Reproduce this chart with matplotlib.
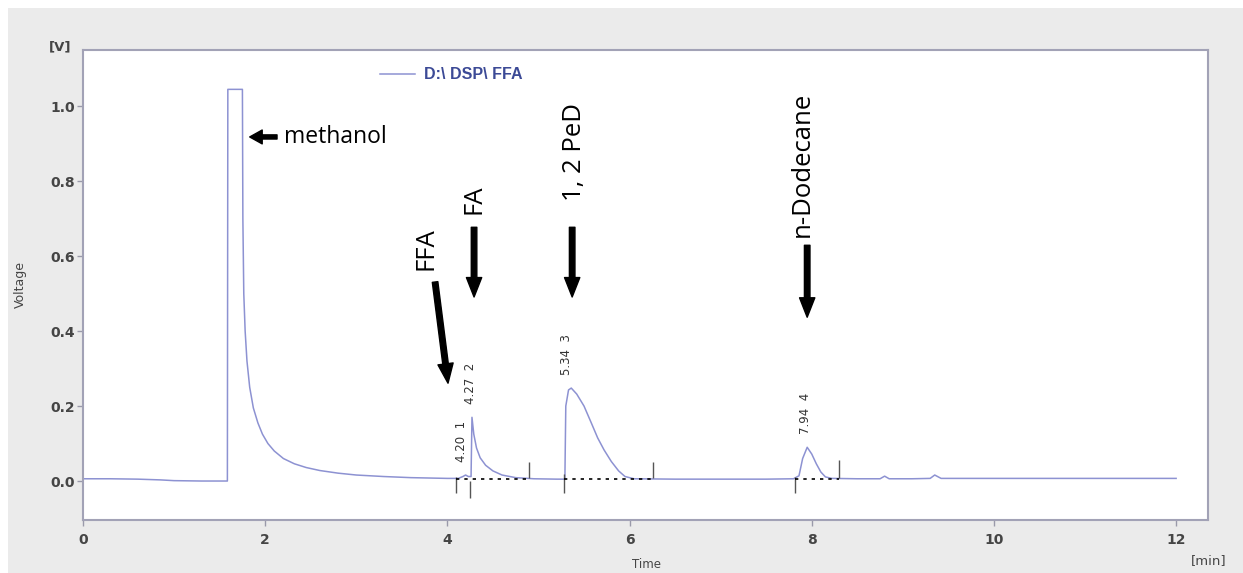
import numpy as np
import matplotlib.pyplot as plt
from matplotlib.patches import Rectangle

# chromatogram trace (time in min, voltage in V)
time = [0.0, 0.3, 0.6, 0.85, 1.0, 1.3, 1.585, 1.59, 1.75, 1.755, 1.765, 1.78,
        1.80, 1.83, 1.87, 1.92, 1.97, 2.03, 2.1, 2.2, 2.32, 2.45, 2.6, 2.8,
        3.0, 3.3, 3.6, 4.0, 4.12, 4.17, 4.20, 4.23, 4.26, 4.27, 4.29, 4.32,
        4.36, 4.42, 4.5, 4.6, 4.75, 4.95, 5.2, 5.29, 5.30, 5.33, 5.36, 5.42,
        5.5, 5.58, 5.65, 5.72, 5.8, 5.88, 5.95, 6.05, 6.5, 7.0, 7.5, 7.8,
        7.86, 7.9, 7.95, 8.0, 8.05, 8.1, 8.15, 8.22, 8.5, 8.75, 8.8, 8.85,
        9.1, 9.3, 9.35, 9.42, 9.8, 10.5, 11.2, 12.0]
voltage = [0.006, 0.006, 0.005, 0.003, 0.001, 0.0, 0.0, 1.045, 1.045, 0.70,
           0.50, 0.40, 0.32, 0.25, 0.195, 0.155, 0.125, 0.10, 0.08, 0.06,
           0.046, 0.036, 0.028, 0.021, 0.016, 0.012, 0.009, 0.007, 0.007,
           0.012, 0.016, 0.012, 0.012, 0.17, 0.125, 0.088, 0.062, 0.042,
           0.027, 0.016, 0.009, 0.006, 0.005, 0.005, 0.20, 0.243, 0.248,
           0.232, 0.20, 0.155, 0.115, 0.083, 0.052, 0.027, 0.012, 0.006,
           0.005, 0.005, 0.005, 0.006, 0.014, 0.06, 0.09, 0.072, 0.046,
           0.024, 0.011, 0.007, 0.006, 0.006, 0.013, 0.006, 0.006, 0.007,
           0.016, 0.007, 0.007, 0.007, 0.007, 0.007]

# integration marks and baselines
mark_t = [4.10, 4.25, 4.90, 5.28, 6.26, 7.82, 8.30]
mark_lo = [-0.032, -0.045, 0.008, -0.032, 0.008, -0.032, 0.008]
mark_hi = [0.010, 0.000, 0.050, 0.020, 0.050, 0.010, 0.056]
base_start = [4.10, 5.28, 7.82]
base_end = [4.90, 6.26, 8.30]
base_v = 0.006

# peak labels: retention time + peak number
peak_t = [4.155, 4.25, 5.31, 7.93]
peak_top = [0.016, 0.17, 0.248, 0.09]
peak_lbl = ["4.20  1", "4.27  2", "5.34  3", "7.94  4"]

# compound annotations
names = ["FFA", "FA", "1, 2 PeD", "n-Dodecane"]
name_xy = [(3.77, 0.62), (4.29, 0.752), (5.40, 0.877), (7.895, 0.845)]
arrow_tail = [(3.865, 0.531), (4.293, 0.677), (5.37, 0.677), (7.95, 0.629)]
arrow_head = [(4.007, 0.261), (4.293, 0.491), (5.37, 0.491), (7.95, 0.437)]

line_col = "#8d92d2"
grey_txt = "#454545"

fig = plt.figure(figsize=(12.43, 5.73), dpi=100, facecolor="white")
fig.patches.append(Rectangle((8 / 1243, 0), 1, 565 / 573, transform=fig.transFigure,
                             facecolor="#ebebeb", edgecolor="none", zorder=-10))
ax = fig.add_axes([83 / 1243, 53 / 573, 1125 / 1243, 470 / 573])
ax.set_facecolor("white")

ax.plot(time, voltage, color=line_col, lw=1.1, label="D:\\ DSP\\ FFA")
ax.vlines(mark_t, mark_lo, mark_hi, color="#555555", lw=1)
for a, b in zip(base_start, base_end):
    ax.plot([a, b], [base_v, base_v], color="black", lw=1.2, ls=(0, (2, 3)))

for x, y, s in zip(peak_t, peak_top, peak_lbl):
    ax.text(x, y + 0.035, s, rotation=90, ha="center", va="bottom",
            fontsize=8.5, color="#333333")

for s, (tx, ty), tail, head in zip(names, name_xy, arrow_tail, arrow_head):
    ax.text(tx, ty, s, rotation=90, ha="center", va="center",
            fontsize=18.5, family="Open Sans", color="black")
    ax.annotate("", xy=head, xytext=tail,
                arrowprops=dict(facecolor="black", edgecolor="black", width=4,
                                headwidth=11, headlength=14, shrink=0))

ax.annotate("", xy=(1.83, 0.918), xytext=(2.13, 0.918),
            arrowprops=dict(facecolor="black", edgecolor="black", width=3,
                            headwidth=10, headlength=9, shrink=0))
ax.text(2.21, 0.918, "methanol", ha="left", va="center", fontsize=16.5,
        family="Open Sans", color="black")

ax.set_xlim(0, 12.35)
ax.set_ylim(-0.104, 1.15)
ax.set_xticks(np.arange(0, 13, 2))
ax.set_yticks(np.arange(0, 1.01, 0.2))
ax.set_yticklabels([f"{v:.1f}" for v in np.arange(0, 1.01, 0.2)])
ax.tick_params(direction="out", length=4, width=1, color="#9a9aaa",
               labelsize=10, labelcolor=grey_txt, pad=2)
ax.tick_params(axis="x", pad=5)
for lab in ax.get_xticklabels() + ax.get_yticklabels():
    lab.set_fontweight("bold")
for sp in ax.spines.values():
    sp.set_color("#a2a2b6")
    sp.set_linewidth(1.5)

leg = ax.legend(loc="center left", bbox_to_anchor=(0.258, 0.947), frameon=False,
                handlelength=2.2, handletextpad=0.6, borderaxespad=0,
                prop=dict(family="Liberation Sans", weight="bold", size=11.5))
for txt in leg.get_texts():
    txt.set_color("#3c4a96")

fig.text(60 / 1243, 1 - 47 / 573, "[V]", ha="center", va="center",
         fontsize=9.5, color=grey_txt, weight="bold")
fig.text(1209 / 1243, 1 - 561 / 573, "[min]", ha="center", va="center",
         fontsize=9.5, color=grey_txt)
fig.text(20 / 1243, 1 - 285 / 573, "Voltage", ha="center", va="center",
         rotation=90, fontsize=9, color=grey_txt)
fig.text(647 / 1243, 2 / 573, "Time", ha="center", va="bottom",
         fontsize=8.5, color=grey_txt)

fig.savefig("out.png", dpi=100, facecolor=fig.get_facecolor())
